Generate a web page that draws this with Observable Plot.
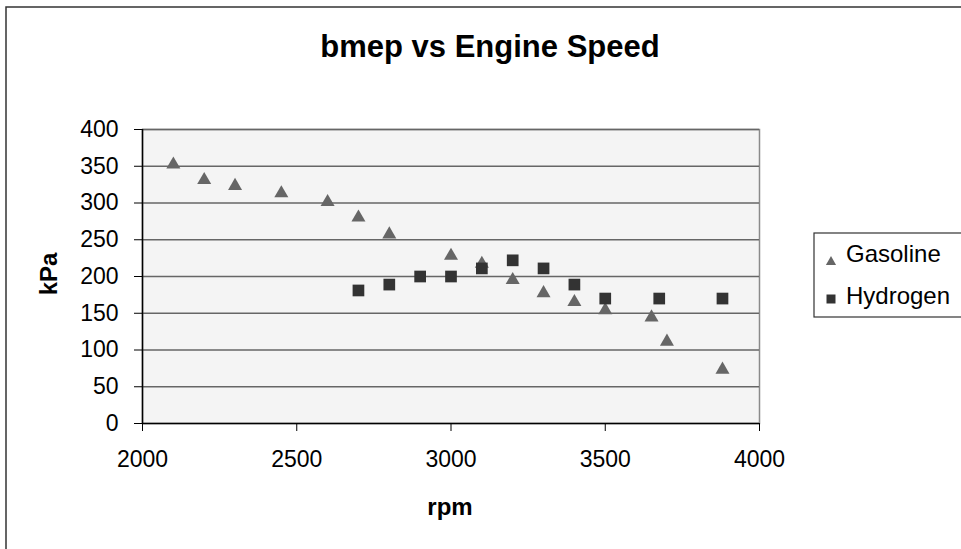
<!DOCTYPE html>
<html>
<head>
<meta charset="utf-8">
<script src="https://cdn.jsdelivr.net/npm/d3@7"></script>
<script src="https://cdn.jsdelivr.net/npm/@observablehq/plot@0.6"></script>
<style>
  html, body { margin: 0; padding: 0; background: #fff; }
  #chart { width: 961px; height: 549px; overflow: hidden; }
</style>
</head>
<body>
<div id="chart"></div>
<script>
// ---- data ----
const gasRpm = [2100, 2200, 2300, 2450, 2600, 2700, 2800, 3000, 3100, 3200, 3300, 3400, 3500, 3650, 3700, 3880];
const gasKpa = [355, 334, 326, 316, 304, 283, 260, 231, 220, 198, 180, 168, 157, 147, 114, 76];
const h2Rpm  = [2700, 2800, 2900, 3000, 3100, 3200, 3300, 3400, 3500, 3675, 3880];
const h2Kpa  = [181, 189, 200, 200, 211, 222, 211, 189, 170, 170, 170];
const xTicks = [2000, 2500, 3000, 3500, 4000];
const yTicks = [0, 50, 100, 150, 200, 250, 300, 350, 400];
const seriesNames = ["Gasoline", "Hydrogen"];
const titleText = "bmep vs Engine Speed";
const xLabel = "rpm";
const yLabel = "kPa";

const gas = gasRpm.map((r, i) => ({rpm: r, kpa: gasKpa[i]}));
const h2 = h2Rpm.map((r, i) => ({rpm: r, kpa: h2Kpa[i]}));

const FONT = "'Liberation Sans', Arial, Helvetica, sans-serif";

const plot = Plot.plot({
  width: 961,
  height: 549,
  marginLeft: 142,
  marginRight: 202,
  marginTop: 129,
  marginBottom: 126,
  style: {fontFamily: FONT, fontSize: "23px", color: "#000", background: "transparent"},
  x: {domain: [2000, 4000], ticks: xTicks, tickFormat: d => String(d), label: null},
  y: {domain: [0, 400], ticks: yTicks, tickFormat: d => String(d), label: null},
  marks: [
    Plot.frame({fill: "#f4f4f4", stroke: "#8a8a8a", strokeWidth: 1.5}),
    Plot.ruleY(yTicks.filter(d => d > 0), {stroke: "#666", strokeWidth: 1.3}),
    Plot.axisX({ticks: xTicks, tickSize: 8, tickPadding: 19, tickFormat: d => String(d), label: null, stroke: "#000"}),
    Plot.axisY({ticks: yTicks, tickSize: 8, tickPadding: 16, tickFormat: d => String(d), label: null, stroke: "#000"}),
    Plot.ruleY([0], {stroke: "#000", strokeWidth: 1.5}),
    Plot.ruleX([2000], {stroke: "#000", strokeWidth: 1.5}),
    Plot.dot(gas, {x: "rpm", y: "kpa", symbol: "triangle", r: 5.2, fill: "#666666", stroke: "none", dy: 2}),
    Plot.dot(h2, {x: "rpm", y: "kpa", symbol: "square", r: 6.6, fill: "#333333", stroke: "none"})
  ]
});

document.getElementById("chart").appendChild(plot);

const svg = d3.select(plot);

// outer chart border
svg.insert("rect", ":first-child")
  .attr("x", 6).attr("y", 7).attr("width", 1000).attr("height", 600)
  .attr("fill", "#fff").attr("stroke", "#333").attr("stroke-width", 1.5);

// title
svg.append("text")
  .attr("x", 490).attr("y", 57)
  .attr("text-anchor", "middle")
  .attr("font-family", FONT).attr("font-weight", "bold").attr("font-size", 31)
  .attr("fill", "#000")
  .text(titleText);

// x label
svg.append("text")
  .attr("x", 450).attr("y", 515)
  .attr("text-anchor", "middle")
  .attr("font-family", FONT).attr("font-weight", "bold").attr("font-size", 24)
  .attr("fill", "#000")
  .text(xLabel);

// y label
svg.append("text")
  .attr("transform", "translate(57,274) rotate(-90)")
  .attr("text-anchor", "middle")
  .attr("font-family", FONT).attr("font-weight", "bold").attr("font-size", 24)
  .attr("fill", "#000")
  .text(yLabel);

// legend
const lg = svg.append("g").attr("text-anchor", "start");
lg.append("rect")
  .attr("x", 814).attr("y", 233).attr("width", 200).attr("height", 84)
  .attr("fill", "#fff").attr("stroke", "#333").attr("stroke-width", 1.2);
const legendItems = [
  {name: seriesNames[0], sym: d3.symbolTriangle, size: 45, fill: "#666666", cy: 262, base: 262},
  {name: seriesNames[1], sym: d3.symbolSquare, size: 81, fill: "#333333", cy: 299, base: 304}
];
legendItems.forEach(it => {
  lg.append("path")
    .attr("d", d3.symbol(it.sym, it.size)())
    .attr("transform", `translate(831,${it.cy})`)
    .attr("fill", it.fill);
  lg.append("text")
    .attr("x", 846).attr("y", it.base)
    .attr("text-anchor", "start")
    .attr("font-family", FONT).attr("font-size", 24)
    .attr("fill", "#000")
    .text(it.name);
});
</script>
</body>
</html>
